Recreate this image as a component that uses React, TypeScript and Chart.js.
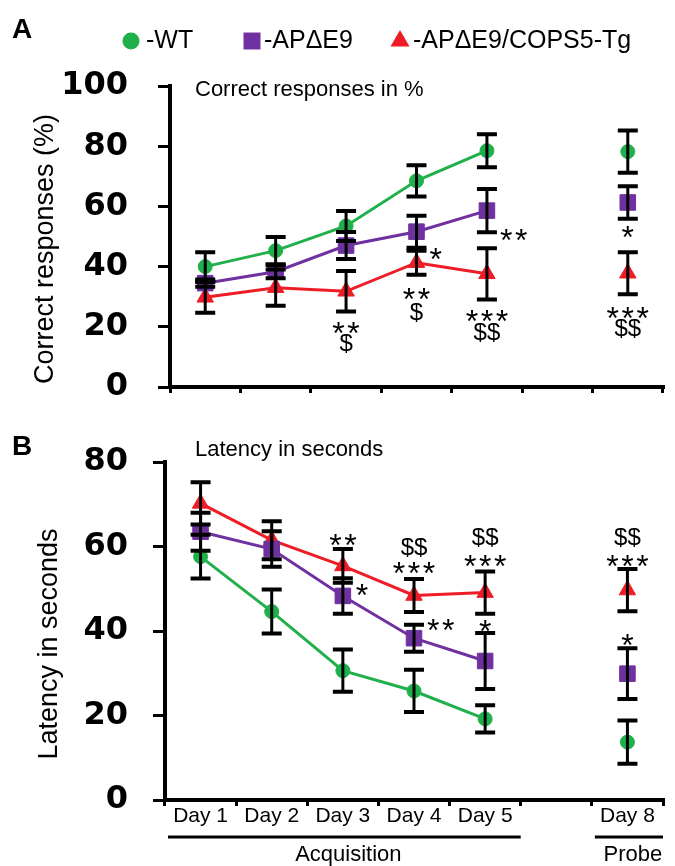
import React, { useEffect, useRef } from 'react';
import { Chart, registerables } from 'chart.js';
import { drawPoint } from 'chart.js/helpers';

Chart.register(...registerables);
Chart.defaults.font.family = '"Liberation Sans", Arial, sans-serif';

// ---------- data ----------
const dayLabels = ['Day 1', 'Day 2', 'Day 3', 'Day 4', 'Day 5', '', 'Day 8'];
const seriesNames = ['-WT', '-AP\u0394E9', '-AP\u0394E9/COPS5-Tg'];

const correctWT = [40, 45.3, 53.5, 68.5, 78.5, null, 78.2];
const correctWTErr = [4.8, 4.5, 5, 5.2, 5.5, null, 7];
const correctAP = [34.5, 38.3, 47, 51.6, 58.6, null, 61.3];
const correctAPErr = [1.2, 2.2, 4.5, 5.3, 7.2, null, 5.4];
const correctTg = [29.8, 33, 31.8, 41.3, 37.6, null, 37.8];
const correctTgErr = [5.1, 6, 6.7, 4, 8.5, null, 7];
const correctTicks = [0, 20, 40, 60, 80, 100];

const latencyWT = [57.6, 44.6, 30.6, 25.8, 19.2, null, 13.7];
const latencyWTErr = [5.2, 5.2, 5, 5, 3.2, null, 5.1];
const latencyAP = [63.5, 59.4, 48.3, 38.3, 32.9, null, 29.9];
const latencyAPErr = [4.5, 4.2, 4.2, 3.2, 6.6, null, 6];
const latencyTg = [70.2, 61.5, 55.4, 48.4, 49.1, null, 49.7];
const latencyTgErr = [5, 4.5, 4, 3.9, 5, null, 5];
const latencyTicks = [0, 20, 40, 60, 80];

// significance marks: [category index, value, text, side]
const correctMarks: [number, number, string, string][] = [
  [2, 20.3, '**', 'c'], [2, 14.3, '$', 'c'],
  [3, 44.9, '*', 'r'], [3, 31.6, '**', 'c'], [3, 24.6, '$', 'c'],
  [4, 51.2, '**', 'r'], [4, 24.4, '***', 'c'], [4, 17.9, '$$', 'c'],
  [6, 52.5, '*', 'c'], [6, 25.6, '***', 'c'], [6, 19, '$$', 'c'],
];
const latencyMarks: [number, number, string, string][] = [
  [2, 62.2, '**', 'c'], [2, 50.4, '*', 'r'],
  [3, 59.6, '$$', 'c'], [3, 55.6, '***', 'c'], [3, 42.1, '**', 'r'],
  [4, 62, '$$', 'c'], [4, 57.2, '***', 'c'], [4, 41.8, '*', 'c'],
  [6, 62, '$$', 'c'], [6, 57.2, '***', 'c'], [6, 38.5, '*', 'c'],
];
const groups: [string, number, number][] = [['Acquisition', 0, 4], ['Probe', 6, 6]];

// ---------- styles ----------
const colors = ['#1fb04b', '#7031a0', '#ee1c24'];
const pointStyles = ['circle', 'rect', 'triangle'];
const pointRadii = [7, 11, 9.5];

function drawMark(ctx: CanvasRenderingContext2D, text: string, cx: number, cy: number, side: string) {
  ctx.fillStyle = '#000';
  if (text[0] === '*') {
    const size = 32;
    ctx.font = size + 'px "Liberation Sans"';
    const gw = ctx.measureText('*').width;
    const base = cy + 0.58 * size;
    const step = 15;
    const n = text.length;
    const first = side === 'r' ? cx + 13 + gw / 2 : cx - ((n - 1) * step) / 2;
    ctx.textAlign = 'center';
    ctx.textBaseline = 'alphabetic';
    for (let k = 0; k < n; k++) ctx.fillText('*', first + k * step, base);
  } else {
    ctx.font = '24px "Liberation Sans"';
    ctx.textAlign = side === 'r' ? 'left' : 'center';
    ctx.textBaseline = 'middle';
    ctx.fillText(text, side === 'r' ? cx + 13 : cx, cy);
  }
}

type Panel = {
  letter: string; inner: string; yTitle: string;
  series: (number | null)[][]; errors: (number | null)[][];
  ticks: number[]; max: number; marks: [number, number, string, string][];
  legend: boolean; xLabels: boolean;
  h: number; top: number; axisLeft: number; xAxisH: number; tickPad: number;
  letterY: number; innerY: number; yTitleX: number; yTitleY: number;
};

const panelA: Panel = {
  letter: 'A', inner: 'Correct responses in %', yTitle: 'Correct responses (%)',
  series: [correctWT, correctAP, correctTg], errors: [correctWTErr, correctAPErr, correctTgErr],
  ticks: correctTicks, max: 100, marks: correctMarks, legend: true, xLabels: false,
  h: 420, top: 86, axisLeft: 170, xAxisH: 33, tickPad: 30,
  letterY: 30, innerY: 90, yTitleX: 46, yTitleY: 249,
};
const panelB: Panel = {
  letter: 'B', inner: 'Latency in seconds', yTitle: 'Latency in seconds',
  series: [latencyWT, latencyAP, latencyTg], errors: [latencyWTErr, latencyAPErr, latencyTgErr],
  ticks: latencyTicks, max: 80, marks: latencyMarks, legend: false, xLabels: true,
  h: 446, top: 42, axisLeft: 165, xAxisH: 66, tickPad: 25,
  letterY: 27, innerY: 30, yTitleX: 50, yTitleY: 224,
};

function overlay(p: Panel) {
  return {
    id: 'overlay' + p.letter,
    afterDatasetsDraw(chart: any) {
      const ctx: CanvasRenderingContext2D = chart.ctx;
      const x = chart.scales.x, y = chart.scales.y;
      ctx.save();
      ctx.strokeStyle = '#000';
      p.errors.forEach((errs, di) => {
        const vals = p.series[di];
        errs.forEach((e, i) => {
          const v = vals[i];
          if (e == null || v == null) return;
          const px = x.getPixelForValue(i);
          const t = y.getPixelForValue(v + e);
          const b = y.getPixelForValue(v - e);
          ctx.lineWidth = 3;
          ctx.beginPath(); ctx.moveTo(px, t); ctx.lineTo(px, b); ctx.stroke();
          ctx.lineWidth = 4;
          ctx.beginPath();
          ctx.moveTo(px - 10, t); ctx.lineTo(px + 10, t);
          ctx.moveTo(px - 10, b); ctx.lineTo(px + 10, b);
          ctx.stroke();
        });
      });
      p.marks.forEach(([i, v, text, side]) => drawMark(ctx, text, x.getPixelForValue(i), y.getPixelForValue(v), side));
      ctx.restore();
    },
    afterDraw(chart: any) {
      const ctx: CanvasRenderingContext2D = chart.ctx;
      const x = chart.scales.x;
      ctx.save();
      ctx.fillStyle = '#000';
      ctx.textBaseline = 'middle';
      ctx.textAlign = 'left';
      ctx.font = 'bold 28px "Liberation Sans"';
      ctx.fillText(p.letter, 12, p.letterY);
      ctx.font = '22px "Liberation Sans"';
      ctx.fillText(p.inner, 195, p.innerY);
      ctx.save();
      ctx.translate(p.yTitleX, p.yTitleY);
      ctx.rotate(-Math.PI / 2);
      ctx.textAlign = 'center';
      ctx.font = '27px "Liberation Sans"';
      ctx.fillText(p.yTitle, 0, 0);
      ctx.restore();
      if (p.legend) {
        const mx = [131, 252, 400];
        const tx = [146, 264, 413];
        const lr = [8.5, 12, 11];
        seriesNames.forEach((name, k) => {
          ctx.fillStyle = colors[k];
          drawPoint(ctx, { pointStyle: pointStyles[k], radius: lr[k], rotation: 0, borderWidth: 0 } as any, mx[k], 41);
          ctx.fillStyle = '#000';
          ctx.font = '25px "Liberation Sans"';
          ctx.textAlign = 'left';
          ctx.fillText(name, tx[k], 41);
        });
      }
      if (p.xLabels) {
        const half = (x.getPixelForValue(1) - x.getPixelForValue(0)) / 2;
        const lineY = chart.chartArea.bottom + 37;
        groups.forEach(([label, a, b]) => {
          const l = x.getPixelForValue(a) - half + 3;
          const r = Math.min(x.getPixelForValue(b) + half, chart.width);
          ctx.strokeStyle = '#000';
          ctx.lineWidth = 3;
          ctx.beginPath(); ctx.moveTo(l, lineY); ctx.lineTo(r, lineY); ctx.stroke();
          ctx.font = '22px "Liberation Sans"';
          ctx.textAlign = 'center';
          ctx.fillText(label, (l + r) / 2 + 4, lineY + 18);
        });
      }
      ctx.restore();
    },
  };
}

function makeChart(canvas: HTMLCanvasElement, p: Panel) {
  return new Chart(canvas, {
    type: 'line',
    data: {
      labels: dayLabels,
      datasets: seriesNames.map((name, k) => ({
        label: name,
        data: p.series[k],
        borderColor: colors[k],
        backgroundColor: colors[k],
        borderWidth: 3,
        pointStyle: pointStyles[k] as any,
        pointRadius: pointRadii[k],
        pointBorderWidth: 1,
        pointBackgroundColor: colors[k],
        pointBorderColor: colors[k],
        tension: 0,
        spanGaps: false,
        clip: false as any,
      })),
    },
    options: {
      responsive: false,
      animation: false,
      devicePixelRatio: 1,
      layout: { padding: { top: p.top, left: 0, right: 0, bottom: 0 } },
      plugins: { legend: { display: false }, tooltip: { enabled: false } },
      scales: {
        x: {
          type: 'category',
          offset: true,
          grid: { drawOnChartArea: false, drawTicks: true, tickLength: 6, lineWidth: 3, color: '#000', offset: true },
          border: { display: true, color: '#000', width: 4 },
          ticks: {
            display: p.xLabels, color: '#000', autoSkip: false, maxRotation: 0, minRotation: 0,
            padding: -2, font: { size: 21, family: '"Liberation Sans"' },
          },
          afterFit: (s: any) => { s.height = p.xAxisH; s.paddingLeft = 0; s.paddingRight = 0; },
        },
        y: {
          type: 'linear',
          min: 0,
          max: p.max,
          grid: { drawOnChartArea: false, drawTicks: true, tickLength: 12, lineWidth: 3, color: '#000' },
          border: { display: true, color: '#000', width: 4 },
          ticks: { color: '#000', padding: p.tickPad, font: { size: 32, weight: 'bold', family: '"DejaVu Sans"' } },
          afterBuildTicks: (s: any) => { s.ticks = p.ticks.map((v) => ({ value: v })); },
          afterFit: (s: any) => { s.width = p.axisLeft; s.paddingTop = 0; s.paddingBottom = 0; },
        },
      },
    } as any,
    plugins: [overlay(p)],
  });
}

export default function App() {
  const refA = useRef<HTMLCanvasElement>(null);
  const refB = useRef<HTMLCanvasElement>(null);
  useEffect(() => {
    const a = makeChart(refA.current!, panelA);
    const b = makeChart(refB.current!, panelB);
    return () => { a.destroy(); b.destroy(); };
  }, []);
  return (
    <div style={{ position: 'absolute', left: 0, top: 0, width: 675, height: 866, background: '#fff' }}>
      <canvas ref={refA} width={675} height={panelA.h} style={{ position: 'absolute', left: 0, top: 0 }} />
      <canvas ref={refB} width={675} height={panelB.h} style={{ position: 'absolute', left: 0, top: panelA.h }} />
    </div>
  );
}
